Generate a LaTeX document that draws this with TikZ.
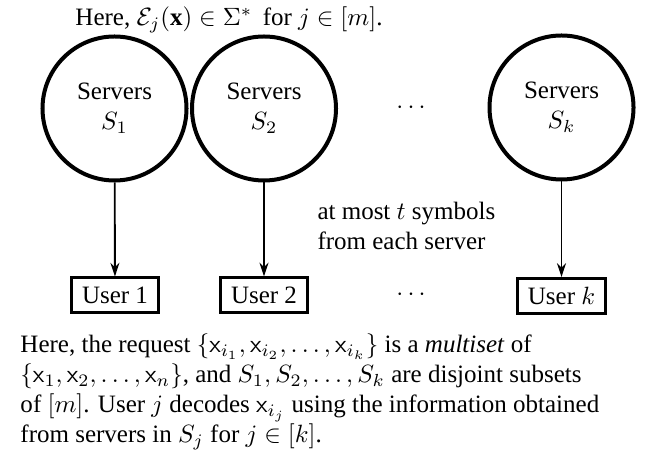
\documentclass[tikz,border=0pt]{standalone}
\usepackage{fontspec}
\setmainfont{Liberation Serif}
\usetikzlibrary{arrows.meta}
\begin{document}
\begin{tikzpicture}[x=0.4pt,y=-0.4pt,
  font=\fontsize{10}{12}\selectfont,
  server/.style={circle,draw,line width=1.6pt,minimum size=57.6pt,inner sep=0pt,align=center},
  user/.style={draw,line width=1.2pt,inner xsep=4.2pt,inner ysep=0pt,minimum height=14pt},
  link/.style={line width=0.75pt,-{Stealth[length=5.5pt,width=3.6pt]}},
  caption/.style={align=left,inner sep=0pt}]
\useasboundingbox (0,0) rectangle (657,457);

\node[caption] (top) at (229,20) {Here, $\mathcal{E}_j(\mathbf{x}) \in \Sigma^*$\, for $j \in [m]$.};

\node[server] (s1) at (114.5,108.5) {Servers\\$S_1$};
\node[server] (s2) at (264,108.5) {Servers\\$S_2$};
\node[server] (sk) at (561.5,107.5) {Servers\\$S_k$};
\node (dtop) at (411,108) {$\cdots$};

\node[user] (u1) at (115,295.5) {User 1};
\node[user] (u2) at (264,295.5) {User 2};
\node[user] (uk) at (561.5,296) {User $k$};
\node (dbot) at (411,295) {$\cdots$};

\draw[link] (s1) -- (u1);
\draw[link] (s2) -- (u2);
\draw[link] (sk) -- (uk);

\node[caption,anchor=west] (note) at (317,226) {at most $t$ symbols\\from each server};

\node[caption,anchor=west] (desc) at (20,392) {Here, the request $\{\mathsf{x}_{i_1},\mathsf{x}_{i_2},\ldots,\mathsf{x}_{i_k}\}$ is a \emph{multiset} of\\
$\{\mathsf{x}_1,\mathsf{x}_2,\ldots,\mathsf{x}_n\}$, and $S_1,S_2,\ldots,S_k$ are disjoint subsets\\
of $[m]$. User $j$ decodes $\mathsf{x}_{i_j}$ using the information obtained\\
from servers in $S_j$ for $j\in[k]$.};
\end{tikzpicture}
\end{document}
